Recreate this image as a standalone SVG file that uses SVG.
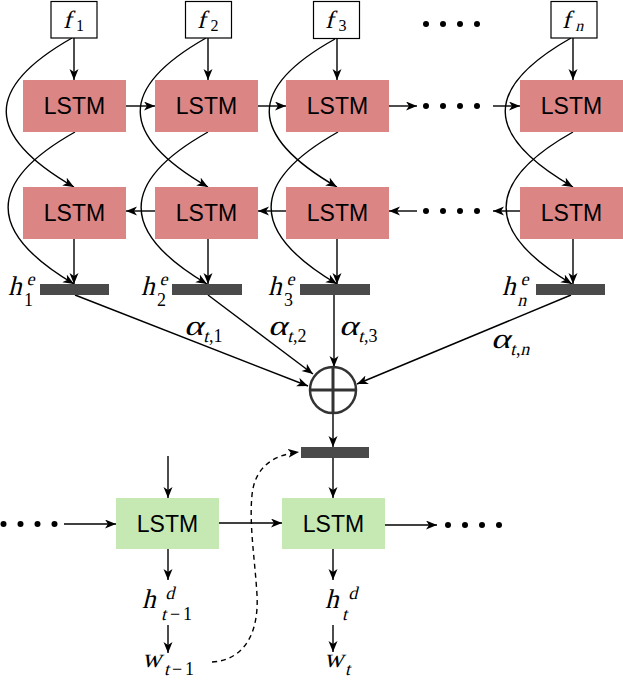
<svg xmlns="http://www.w3.org/2000/svg" width="623" height="681" viewBox="0 0 623 681">
<defs>
<marker id="arr" markerUnits="userSpaceOnUse" markerWidth="12" markerHeight="10" refX="11" refY="4.5" orient="auto">
<path d="M0,0 L11,4.5 L0,9 L3,4.5 z" fill="#000"/>
</marker>
<style>
.fbox{fill:#fff;stroke:#000;stroke-width:1.2}
.enc{fill:#dc8585}
.dec{fill:#c6e9b3}
.bar{fill:#4a4a4a}
.lstm{font-family:"Liberation Sans",Arial,sans-serif;font-size:23px;fill:#000;text-anchor:middle}
.m{font-family:"Liberation Serif","Times New Roman",serif;font-size:27px;fill:#000}
.al{font-family:"Liberation Serif","Times New Roman",serif;font-size:28px;fill:#000}
.mf{font-family:"Liberation Serif","Times New Roman",serif;font-size:25px;fill:#000}
.s{font-family:"Liberation Serif","Times New Roman",serif;font-size:18px;fill:#000}
.sf{font-family:"Liberation Serif","Times New Roman",serif;font-size:16px;fill:#000}
.a{fill:none;stroke:#000;stroke-width:1.4;marker-end:url(#arr)}
.d{fill:none;stroke:#000;stroke-width:1.4;stroke-dasharray:5 4;marker-end:url(#arr)}
.dot{fill:#000}
</style>
</defs>
<rect width="623" height="681" fill="#fff"/>

<g id="connectors">
<line class="a" x1="74" y1="38" x2="74" y2="80"/>
<line class="a" x1="208" y1="38" x2="208" y2="80"/>
<line class="a" x1="337" y1="39" x2="337" y2="80"/>
<line class="a" x1="573" y1="38" x2="573" y2="80"/>
<path class="a" d="M72,38 C-16,88 -16,135 74,187"/>
<path class="a" d="M206,38 C118,88 118,135 208,187"/>
<path class="a" d="M335,39 C247,88 247,135 337,187"/>
<path class="a" d="M571,38 C483,88 483,135 573,187"/>
<path class="a" d="M75,132 C-14,182 -14,232 74,284"/>
<path class="a" d="M208,132 C119,182 119,232 207,284"/>
<path class="a" d="M338,132 C249,182 249,232 337,284"/>
<path class="a" d="M573,132 C484,182 484,232 572,284"/>
<line class="a" x1="74" y1="239" x2="74" y2="284"/>
<line class="a" x1="208" y1="239" x2="208" y2="284"/>
<line class="a" x1="337" y1="239" x2="337" y2="284"/>
<line class="a" x1="573" y1="239" x2="573" y2="284"/>
<line class="a" x1="126" y1="106" x2="155" y2="106"/>
<line class="a" x1="258" y1="106" x2="286" y2="106"/>
<line class="a" x1="389" y1="106" x2="417" y2="106"/>
<line class="a" x1="493" y1="106" x2="520" y2="106"/>
<line class="a" x1="155" y1="211" x2="126" y2="211"/>
<line class="a" x1="286" y1="211" x2="258" y2="211"/>
<line class="a" x1="417" y1="211" x2="389" y2="211"/>
<line class="a" x1="520" y1="211" x2="493" y2="211"/>
<line class="a" x1="75" y1="295" x2="308" y2="386"/>
<line class="a" x1="208" y1="295" x2="313" y2="374"/>
<line class="a" x1="334" y1="295" x2="334" y2="367"/>
<line class="a" x1="571" y1="295" x2="357" y2="384"/>
<line class="a" x1="333" y1="413" x2="333" y2="447"/>
<line class="a" x1="333" y1="458" x2="333" y2="498"/>
<line class="a" x1="168" y1="456" x2="168" y2="498"/>
<line class="a" x1="64" y1="524" x2="116" y2="524"/>
<line class="a" x1="219" y1="523" x2="282" y2="523"/>
<line class="a" x1="385" y1="525" x2="437" y2="525"/>
<line class="a" x1="168" y1="549" x2="168" y2="580"/>
<line class="a" x1="333" y1="549" x2="333" y2="580"/>
<line class="a" x1="168" y1="625" x2="168" y2="653"/>
<line class="a" x1="333" y1="625" x2="333" y2="652"/>
<path class="d" d="M212,662 C245,660 259,632 257,595 C255,560 249,525 252,495 C255,466 274,455 299,452"/>
</g>

<g id="dots">
<circle class="dot" cx="426" cy="24" r="3"/><circle class="dot" cx="443" cy="24" r="3"/><circle class="dot" cx="460" cy="24" r="3"/><circle class="dot" cx="477" cy="24" r="3"/>
<circle class="dot" cx="426" cy="106" r="3"/><circle class="dot" cx="443" cy="106" r="3"/><circle class="dot" cx="460" cy="106" r="3"/><circle class="dot" cx="477" cy="106" r="3"/>
<circle class="dot" cx="426" cy="211" r="3"/><circle class="dot" cx="443" cy="211" r="3"/><circle class="dot" cx="460" cy="211" r="3"/><circle class="dot" cx="477" cy="211" r="3"/>
<circle class="dot" cx="3.5" cy="524" r="3"/><circle class="dot" cx="20.5" cy="524" r="3"/><circle class="dot" cx="37.5" cy="524" r="3"/><circle class="dot" cx="54.5" cy="524" r="3"/>
<circle class="dot" cx="448" cy="525" r="3"/><circle class="dot" cx="465" cy="525" r="3"/><circle class="dot" cx="482" cy="525" r="3"/><circle class="dot" cx="499" cy="525" r="3"/>
</g>

<g id="f1"><rect class="fbox" x="51" y="1.5" width="46" height="36.5"/><g transform="translate(63,28) skewX(-14)"><text class="mf">f</text></g><text class="sf" x="76" y="31">1</text></g>
<g id="f2"><rect class="fbox" x="185.5" y="1.5" width="46" height="36.5"/><g transform="translate(197,28) skewX(-14)"><text class="mf">f</text></g><text class="sf" x="210.5" y="31">2</text></g>
<g id="f3"><rect class="fbox" x="313.5" y="1.5" width="46" height="37"/><g transform="translate(325,28) skewX(-14)"><text class="mf">f</text></g><text class="sf" x="338.5" y="31">3</text></g>
<g id="fn"><rect class="fbox" x="551" y="1.5" width="46" height="36.5"/><g transform="translate(562,28) skewX(-14)"><text class="mf">f</text><text class="sf" x="14" y="3">n</text></g></g>

<g id="enc_f1"><rect class="enc" x="23" y="80" width="103" height="52"/><text class="lstm" x="74.5" y="114">LSTM</text></g>
<g id="enc_f2"><rect class="enc" x="155" y="80" width="103" height="52"/><text class="lstm" x="206.5" y="114">LSTM</text></g>
<g id="enc_f3"><rect class="enc" x="286" y="80" width="103" height="52"/><text class="lstm" x="337.5" y="114">LSTM</text></g>
<g id="enc_fn"><rect class="enc" x="520" y="80" width="103" height="52"/><text class="lstm" x="571.5" y="114">LSTM</text></g>

<g id="enc_b1"><rect class="enc" x="23" y="187" width="103" height="52"/><text class="lstm" x="74.5" y="221">LSTM</text></g>
<g id="enc_b2"><rect class="enc" x="155" y="187" width="103" height="52"/><text class="lstm" x="206.5" y="221">LSTM</text></g>
<g id="enc_b3"><rect class="enc" x="286" y="187" width="103" height="52"/><text class="lstm" x="337.5" y="221">LSTM</text></g>
<g id="enc_bn"><rect class="enc" x="520" y="187" width="103" height="52"/><text class="lstm" x="571.5" y="221">LSTM</text></g>

<g id="h1"><rect class="bar" x="40" y="284" width="69" height="11"/><g transform="translate(8,295) skewX(-14)"><text class="m">h</text><text class="s" x="16" y="-10">e</text></g><text class="s" x="24" y="306">1</text></g>
<g id="h2"><rect class="bar" x="172" y="284" width="70" height="11"/><g transform="translate(141,295) skewX(-14)"><text class="m">h</text><text class="s" x="16" y="-10">e</text></g><text class="s" x="157" y="306">2</text></g>
<g id="h3"><rect class="bar" x="300" y="284" width="70" height="11"/><g transform="translate(268,295) skewX(-14)"><text class="m">h</text><text class="s" x="16" y="-10">e</text></g><text class="s" x="284" y="306">3</text></g>
<g id="hn"><rect class="bar" x="536" y="284" width="69" height="11"/><g transform="translate(502,295) skewX(-14)"><text class="m">h</text><text class="s" x="16" y="-10">e</text><text class="s" x="18" y="11">n</text></g></g>

<g id="alpha1"><g transform="translate(184,335) skewX(-14)"><text class="al" transform="scale(1.3,1)">α</text><text class="s" x="21" y="7">t</text></g><text class="s" x="209" y="342">,1</text></g>
<g id="alpha2"><g transform="translate(268,335) skewX(-14)"><text class="al" transform="scale(1.3,1)">α</text><text class="s" x="21" y="7">t</text></g><text class="s" x="293" y="342">,2</text></g>
<g id="alpha3"><g transform="translate(339,335) skewX(-14)"><text class="al" transform="scale(1.3,1)">α</text><text class="s" x="21" y="7">t</text></g><text class="s" x="364" y="342">,3</text></g>
<g id="alphan"><g transform="translate(491,348) skewX(-14)"><text class="al" transform="scale(1.3,1)">α</text><text class="s" x="21" y="7">t</text><text class="s" x="31" y="7">n</text></g><text class="s" x="516" y="355">,</text></g>

<g id="sum">
<circle cx="333" cy="390" r="23" fill="#fff" stroke="#333" stroke-width="2.5"/>
<line x1="310" y1="390" x2="356" y2="390" stroke="#333" stroke-width="3"/>
<line x1="333" y1="367" x2="333" y2="413" stroke="#333" stroke-width="3"/>
</g>

<g id="context"><rect class="bar" x="301" y="447" width="68" height="11"/></g>

<g id="dec1"><rect class="dec" x="116" y="498" width="103" height="51"/><text class="lstm" x="167.5" y="532">LSTM</text></g>
<g id="dec2"><rect class="dec" x="282" y="498" width="103" height="51"/><text class="lstm" x="333.5" y="532">LSTM</text></g>

<g id="hd1"><g transform="translate(142,608) skewX(-14)"><text class="m">h</text><text class="s" x="21" y="-9">d</text><text class="s" x="22" y="12">t</text></g><text class="s" x="170" y="620">−</text><text class="s" x="183" y="620">1</text></g>
<g id="hd2"><g transform="translate(325,608) skewX(-14)"><text class="m">h</text><text class="s" x="21" y="-9">d</text><text class="s" x="20" y="12">t</text></g></g>
<g id="w1"><g transform="translate(142,667) skewX(-14)"><text class="m">w</text><text class="s" x="24" y="8">t</text></g><text class="s" x="172" y="675">−</text><text class="s" x="185" y="675">1</text></g>
<g id="w2"><g transform="translate(324,667) skewX(-14)"><text class="m">w</text><text class="s" x="23" y="8">t</text></g></g>
</svg>
